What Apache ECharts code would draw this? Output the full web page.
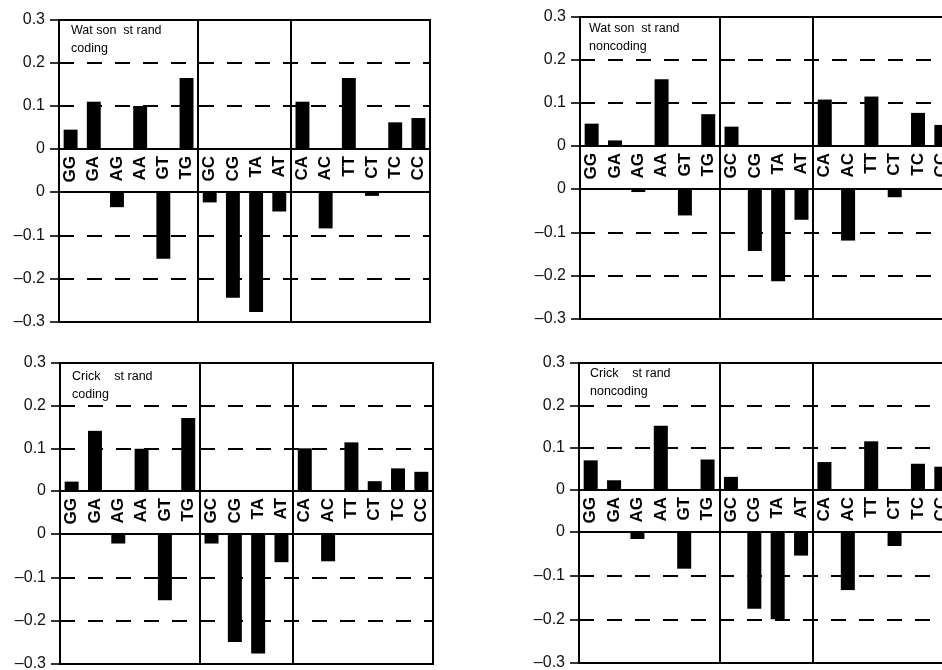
<!DOCTYPE html>
<html>
<head>
<meta charset="utf-8">
<script src="https://cdn.jsdelivr.net/npm/echarts@6/dist/echarts.min.js"></script>
<style>
html,body{margin:0;padding:0;background:#fff;}
#chart{width:942px;height:670px;}
</style>
</head>
<body>
<div id="chart"></div>
<script>
// ---- data ----
const categories = ['GG','GA','AG','AA','GT','TG','GC','CG','TA','AT','CA','AC','TT','CT','TC','CC'];
const groupBreaks = ['GC','CA']; // first category of each new group
const upTicks = [0, 0.1, 0.2, 0.3];
const downTicks = [-0.3, -0.2, -0.1, 0];

const watsonCodingUp   = [0.045,0.11,0,0.10,0,0.165,0,0,0,0,0.11,0,0.165,0,0.062,0.072];
const watsonCodingDown = [0,0,-0.035,0,-0.154,0,-0.024,-0.244,-0.277,-0.045,0,-0.084,0,-0.009,0,0];
const watsonNoncodingUp   = [0.052,0.013,0,0.155,0,0.074,0.045,0,0,0,0.108,0,0.115,0,0.077,0.049];
const watsonNoncodingDown = [0,0,-0.007,0,-0.061,0,0,-0.143,-0.213,-0.071,0,-0.119,0,-0.019,0,0];
const crickCodingUp   = [0.022,0.141,0,0.099,0,0.171,0,0,0,0,0.10,0,0.114,0.023,0.053,0.045];
const crickCodingDown = [0,0,-0.022,0,-0.153,0,-0.022,-0.249,-0.276,-0.065,0,-0.063,0,0,0,0];
const crickNoncodingUp   = [0.07,0.023,0,0.152,0,0.072,0.031,0,0,0,0.066,0,0.115,0,0.062,0.055];
const crickNoncodingDown = [0,0,-0.016,0,-0.084,0,0,-0.176,-0.2,-0.054,0,-0.133,0,-0.032,0,0];

const panelTitles = ['Wat son  st rand\ncoding','Wat son  st rand\nnoncoding','Crick    st rand\ncoding','Crick    st rand\nnoncoding'];

// ---- layout ----
const FONT = 'Liberation Sans';
const panels = [
  {title: panelTitles[0], up: watsonCodingUp, down: watsonCodingDown, left: 59, width: 371, top: 20, upH: 129, bandH: 43, downH: 130, tx: 71, ty: 22},
  {title: panelTitles[1], up: watsonNoncodingUp, down: watsonNoncodingDown, left: 580, width: 373, top: 17, upH: 129, bandH: 43, downH: 130, tx: 589, ty: 20},
  {title: panelTitles[2], up: crickCodingUp, down: crickCodingDown, left: 60, width: 373, top: 363, upH: 128, bandH: 43, downH: 130, tx: 72, ty: 368},
  {title: panelTitles[3], up: crickNoncodingUp, down: crickNoncodingDown, left: 579, width: 374, top: 363, upH: 127, bandH: 42, downH: 131, tx: 590, ty: 365}
];

const grids = [], xAxes = [], yAxes = [], series = [], titles = [];
const breakIdx = groupBreaks.map(c => categories.indexOf(c));
const splitFn = (i) => breakIdx.indexOf(i) >= 0;
const fmt = v => {
  const r = Math.round(v * 10) / 10;
  if (r === 0) return '0';
  return (r < 0 ? '\u2013' : '') + Math.abs(r).toFixed(1);
};
const gridBase = {show: true, borderColor: '#000', borderWidth: 2, containLabel: false, outerBoundsMode: 'none'};
const yLabel = {fontFamily: FONT, fontSize: 16, color: '#111', margin: 14, formatter: fmt};
const yTick = {show: true, length: 9, lineStyle: {color: '#000', width: 1.6}};
const dashed = {show: true, lineStyle: {color: '#000', width: 2, type: [15, 13]}};
const divider = {show: true, interval: splitFn, lineStyle: {color: '#000', width: 2, type: 'solid'}};

panels.forEach((p, k) => {
  const g0 = grids.length;
  // upper
  grids.push(Object.assign({}, gridBase, {left: p.left, top: p.top, width: p.width, height: p.upH}));
  // band
  grids.push(Object.assign({}, gridBase, {left: p.left, top: p.top + p.upH, width: p.width, height: p.bandH}));
  // lower
  grids.push(Object.assign({}, gridBase, {left: p.left, top: p.top + p.upH + p.bandH, width: p.width, height: p.downH}));

  xAxes.push({gridIndex: g0, type: 'category', data: categories, position: 'bottom',
    axisLine: {show: false}, axisTick: {show: false},
    axisLabel: {interval: 0, rotate: 90, margin: 7, fontFamily: FONT, fontSize: 17, fontWeight: 'bold', color: '#000'},
    splitLine: divider});
  xAxes.push({gridIndex: g0 + 1, type: 'category', data: categories,
    axisLine: {show: false}, axisTick: {show: false}, axisLabel: {show: false}, splitLine: divider});
  xAxes.push({gridIndex: g0 + 2, type: 'category', data: categories,
    axisLine: {show: false}, axisTick: {show: false}, axisLabel: {show: false}, splitLine: divider});

  yAxes.push({gridIndex: g0, type: 'value', min: upTicks[0], max: upTicks[upTicks.length - 1], interval: 0.1,
    axisLine: {show: true, lineStyle: {color: '#000', width: 2}}, axisTick: yTick, axisLabel: yLabel, splitLine: dashed});
  yAxes.push({gridIndex: g0 + 1, type: 'value', min: 0, max: 1, show: false});
  yAxes.push({gridIndex: g0 + 2, type: 'value', min: downTicks[0], max: downTicks[downTicks.length - 1], interval: 0.1,
    axisLine: {show: true, lineStyle: {color: '#000', width: 2}}, axisTick: yTick, axisLabel: yLabel, splitLine: dashed});

  series.push({type: 'bar', xAxisIndex: g0, yAxisIndex: g0, data: p.up, barWidth: '60%',
    itemStyle: {color: '#000'}, silent: true, animation: false});
  series.push({type: 'bar', xAxisIndex: g0 + 2, yAxisIndex: g0 + 2, data: p.down, barWidth: '60%',
    itemStyle: {color: '#000'}, silent: true, animation: false});

  titles.push({text: p.title, left: p.tx, top: p.ty, padding: 0,
    textStyle: {fontFamily: FONT, fontSize: 12.5, fontWeight: 'normal', color: '#000', lineHeight: 18}});
});

const chart = echarts.init(document.getElementById('chart'), null, {renderer: 'canvas'});
chart.setOption({
  backgroundColor: '#fff',
  animation: false,
  title: titles,
  grid: grids,
  xAxis: xAxes,
  yAxis: yAxes,
  series: series
});
</script>
</body>
</html>
